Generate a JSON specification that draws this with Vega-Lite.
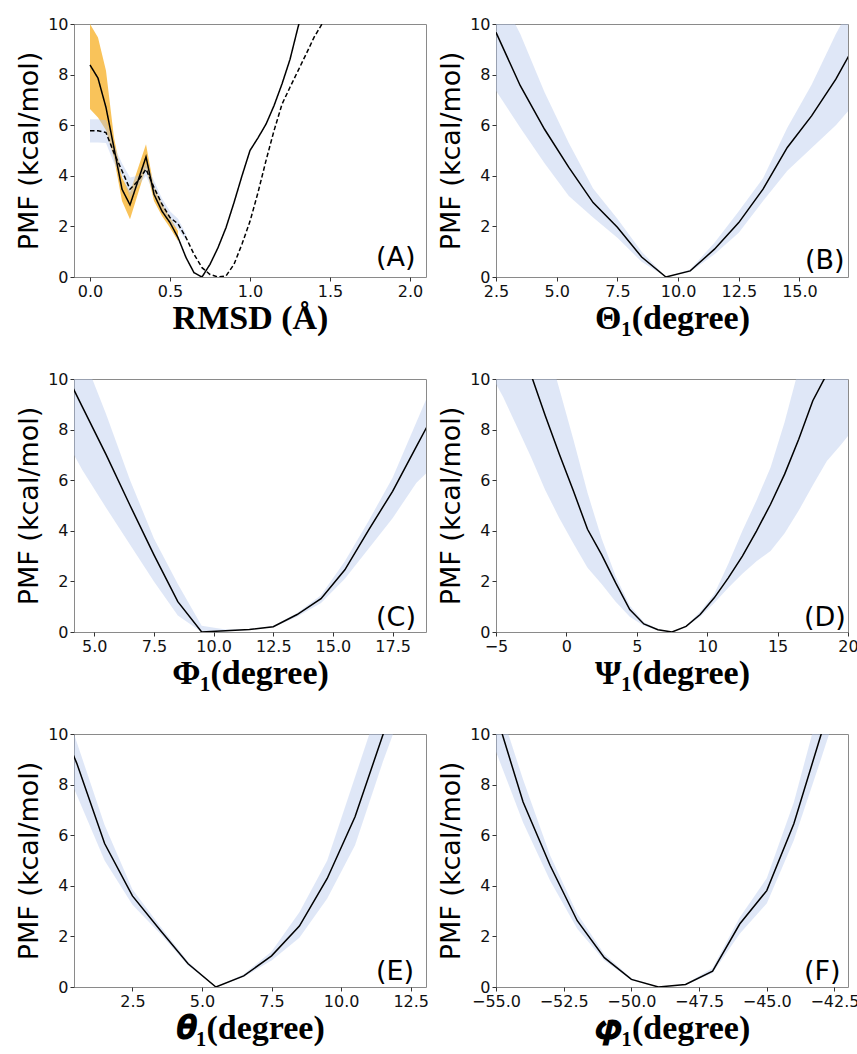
{
  "$schema": "https://vega.github.io/schema/vega-lite/v6.json",
  "padding": {"left": 15, "top": 15, "right": 5, "bottom": 5},
  "background": "white",
  "columns": 2,
  "spacing": {"row": 102, "column": 70},
  "bounds": "flush",
  "datasets": {
    "pmf": [
      {"p":"A","s":"solid","x":0,"y":8.38},{"p":"A","s":"solid","x":0.05,"y":7.86},{"p":"A","s":"solid","x":0.1,"y":6.7},{"p":"A","s":"solid","x":0.15,"y":5.1},{"p":"A","s":"solid","x":0.2,"y":3.47},{"p":"A","s":"solid","x":0.25,"y":2.85},{"p":"A","s":"solid","x":0.3,"y":3.8},{"p":"A","s":"solid","x":0.35,"y":4.75},{"p":"A","s":"solid","x":0.4,"y":3.27},{"p":"A","s":"solid","x":0.45,"y":2.6},{"p":"A","s":"solid","x":0.5,"y":2.15},{"p":"A","s":"solid","x":0.55,"y":1.56},{"p":"A","s":"solid","x":0.6,"y":0.77},{"p":"A","s":"solid","x":0.65,"y":0.17},{"p":"A","s":"solid","x":0.7,"y":0},{"p":"A","s":"solid","x":0.75,"y":0.5},{"p":"A","s":"solid","x":0.8,"y":1.16},{"p":"A","s":"solid","x":0.85,"y":1.95},{"p":"A","s":"solid","x":0.9,"y":2.94},{"p":"A","s":"solid","x":0.95,"y":4.0},{"p":"A","s":"solid","x":1.0,"y":5.0},{"p":"A","s":"solid","x":1.05,"y":5.5},{"p":"A","s":"solid","x":1.1,"y":6.04},{"p":"A","s":"solid","x":1.15,"y":6.77},{"p":"A","s":"solid","x":1.2,"y":7.63},{"p":"A","s":"solid","x":1.25,"y":8.6},{"p":"A","s":"solid","x":1.3,"y":9.87},{"p":"A","s":"solid","x":1.35,"y":11.0},
      {"p":"A","s":"dashed","x":0,"y":5.78},{"p":"A","s":"dashed","x":0.05,"y":5.78},{"p":"A","s":"dashed","x":0.1,"y":5.71},{"p":"A","s":"dashed","x":0.15,"y":4.9},{"p":"A","s":"dashed","x":0.2,"y":4.2},{"p":"A","s":"dashed","x":0.25,"y":3.47},{"p":"A","s":"dashed","x":0.3,"y":3.8},{"p":"A","s":"dashed","x":0.35,"y":4.26},{"p":"A","s":"dashed","x":0.4,"y":3.54},{"p":"A","s":"dashed","x":0.45,"y":2.88},{"p":"A","s":"dashed","x":0.5,"y":2.35},{"p":"A","s":"dashed","x":0.55,"y":2.1},{"p":"A","s":"dashed","x":0.6,"y":1.56},{"p":"A","s":"dashed","x":0.65,"y":0.9},{"p":"A","s":"dashed","x":0.7,"y":0.37},{"p":"A","s":"dashed","x":0.75,"y":0.1},{"p":"A","s":"dashed","x":0.8,"y":0},{"p":"A","s":"dashed","x":0.85,"y":0.04},{"p":"A","s":"dashed","x":0.9,"y":0.5},{"p":"A","s":"dashed","x":0.95,"y":1.3},{"p":"A","s":"dashed","x":1.0,"y":2.2},{"p":"A","s":"dashed","x":1.05,"y":3.34},{"p":"A","s":"dashed","x":1.1,"y":4.6},{"p":"A","s":"dashed","x":1.15,"y":5.78},{"p":"A","s":"dashed","x":1.2,"y":6.83},{"p":"A","s":"dashed","x":1.25,"y":7.5},{"p":"A","s":"dashed","x":1.3,"y":8.15},{"p":"A","s":"dashed","x":1.35,"y":8.8},{"p":"A","s":"dashed","x":1.4,"y":9.47},{"p":"A","s":"dashed","x":1.45,"y":10.0},{"p":"A","s":"dashed","x":1.5,"y":10.6},
      {"p":"B","s":"solid","x":2.5,"y":9.67},{"p":"B","s":"solid","x":3.5,"y":7.56},{"p":"B","s":"solid","x":4.5,"y":5.84},{"p":"B","s":"solid","x":5.5,"y":4.33},{"p":"B","s":"solid","x":6.5,"y":2.94},{"p":"B","s":"solid","x":7.5,"y":1.97},{"p":"B","s":"solid","x":8.5,"y":0.79},{"p":"B","s":"solid","x":9.5,"y":0},{"p":"B","s":"solid","x":10.5,"y":0.24},{"p":"B","s":"solid","x":11.5,"y":1.1},{"p":"B","s":"solid","x":12.5,"y":2.15},{"p":"B","s":"solid","x":13.5,"y":3.47},{"p":"B","s":"solid","x":14.5,"y":5.12},{"p":"B","s":"solid","x":15.5,"y":6.37},{"p":"B","s":"solid","x":16.5,"y":7.82},{"p":"B","s":"solid","x":17.5,"y":9.55},
      {"p":"C","s":"solid","x":3.5,"y":10.8},{"p":"C","s":"solid","x":4.5,"y":8.9},{"p":"C","s":"solid","x":5.5,"y":7.0},{"p":"C","s":"solid","x":6.5,"y":5.0},{"p":"C","s":"solid","x":7.5,"y":3.05},{"p":"C","s":"solid","x":8.5,"y":1.2},{"p":"C","s":"solid","x":9.5,"y":0},{"p":"C","s":"solid","x":10.5,"y":0.05},{"p":"C","s":"solid","x":11.5,"y":0.1},{"p":"C","s":"solid","x":12.5,"y":0.21},{"p":"C","s":"solid","x":13.5,"y":0.69},{"p":"C","s":"solid","x":14.5,"y":1.32},{"p":"C","s":"solid","x":15.5,"y":2.46},{"p":"C","s":"solid","x":16.5,"y":4.04},{"p":"C","s":"solid","x":17.5,"y":5.56},{"p":"C","s":"solid","x":18.5,"y":7.34},{"p":"C","s":"solid","x":19.5,"y":9.1},
      {"p":"D","s":"solid","x":-3.5,"y":11.6},{"p":"D","s":"solid","x":-2.5,"y":10.15},{"p":"D","s":"solid","x":-1.5,"y":8.55},{"p":"D","s":"solid","x":-0.5,"y":7.03},{"p":"D","s":"solid","x":0.5,"y":5.57},{"p":"D","s":"solid","x":1.5,"y":4.06},{"p":"D","s":"solid","x":2.5,"y":3.06},{"p":"D","s":"solid","x":3.5,"y":1.94},{"p":"D","s":"solid","x":4.5,"y":0.89},{"p":"D","s":"solid","x":5.5,"y":0.32},{"p":"D","s":"solid","x":6.5,"y":0.09},{"p":"D","s":"solid","x":7.5,"y":0},{"p":"D","s":"solid","x":8.5,"y":0.22},{"p":"D","s":"solid","x":9.5,"y":0.69},{"p":"D","s":"solid","x":10.5,"y":1.35},{"p":"D","s":"solid","x":11.5,"y":2.14},{"p":"D","s":"solid","x":12.5,"y":3.0},{"p":"D","s":"solid","x":13.5,"y":3.99},{"p":"D","s":"solid","x":14.5,"y":5.05},{"p":"D","s":"solid","x":15.5,"y":6.24},{"p":"D","s":"solid","x":16.5,"y":7.62},{"p":"D","s":"solid","x":17.5,"y":9.14},{"p":"D","s":"solid","x":18.5,"y":10.2},{"p":"D","s":"solid","x":19.5,"y":11.5},{"p":"D","s":"solid","x":20.5,"y":13.0},
      {"p":"E","s":"solid","x":-0.5,"y":11.5},{"p":"E","s":"solid","x":0.5,"y":8.84},{"p":"E","s":"solid","x":1.5,"y":5.67},{"p":"E","s":"solid","x":2.5,"y":3.6},{"p":"E","s":"solid","x":3.5,"y":2.24},{"p":"E","s":"solid","x":4.5,"y":0.92},{"p":"E","s":"solid","x":5.5,"y":0},{"p":"E","s":"solid","x":6.5,"y":0.44},{"p":"E","s":"solid","x":7.5,"y":1.23},{"p":"E","s":"solid","x":8.5,"y":2.41},{"p":"E","s":"solid","x":9.5,"y":4.29},{"p":"E","s":"solid","x":10.5,"y":6.73},{"p":"E","s":"solid","x":11.5,"y":9.96},{"p":"E","s":"solid","x":12.5,"y":13.2},
      {"p":"F","s":"solid","x":-56,"y":13.5},{"p":"F","s":"solid","x":-55,"y":10.8},{"p":"F","s":"solid","x":-54,"y":7.31},{"p":"F","s":"solid","x":-53,"y":4.8},{"p":"F","s":"solid","x":-52,"y":2.62},{"p":"F","s":"solid","x":-51,"y":1.16},{"p":"F","s":"solid","x":-50,"y":0.3},{"p":"F","s":"solid","x":-49,"y":0},{"p":"F","s":"solid","x":-48,"y":0.1},{"p":"F","s":"solid","x":-47,"y":0.63},{"p":"F","s":"solid","x":-46,"y":2.49},{"p":"F","s":"solid","x":-45,"y":3.81},{"p":"F","s":"solid","x":-44,"y":6.45},{"p":"F","s":"solid","x":-43,"y":9.96},{"p":"F","s":"solid","x":-42,"y":13.3}
    ],
    "band": [
      {"p":"A","s":"orange","x":0,"lo":6.64,"hi":10.0},{"p":"A","s":"orange","x":0.05,"lo":6.3,"hi":9.47},{"p":"A","s":"orange","x":0.1,"lo":5.8,"hi":8.15},{"p":"A","s":"orange","x":0.15,"lo":4.7,"hi":5.5},{"p":"A","s":"orange","x":0.2,"lo":3.0,"hi":3.93},{"p":"A","s":"orange","x":0.25,"lo":2.28,"hi":3.34},{"p":"A","s":"orange","x":0.3,"lo":3.3,"hi":4.3},{"p":"A","s":"orange","x":0.35,"lo":4.33,"hi":5.25},{"p":"A","s":"orange","x":0.4,"lo":3.0,"hi":3.54},{"p":"A","s":"orange","x":0.45,"lo":2.41,"hi":2.88},{"p":"A","s":"orange","x":0.5,"lo":1.95,"hi":2.35},{"p":"A","s":"orange","x":0.55,"lo":1.42,"hi":1.82},
      {"p":"A","s":"blue","x":0,"lo":5.32,"hi":6.24},{"p":"A","s":"blue","x":0.05,"lo":5.32,"hi":6.24},{"p":"A","s":"blue","x":0.1,"lo":5.3,"hi":6.2},{"p":"A","s":"blue","x":0.15,"lo":4.5,"hi":5.2},{"p":"A","s":"blue","x":0.2,"lo":4.0,"hi":4.5},{"p":"A","s":"blue","x":0.25,"lo":3.14,"hi":3.93},{"p":"A","s":"blue","x":0.3,"lo":3.6,"hi":4.0},{"p":"A","s":"blue","x":0.35,"lo":4.0,"hi":4.5},{"p":"A","s":"blue","x":0.4,"lo":3.3,"hi":3.8},{"p":"A","s":"blue","x":0.45,"lo":2.7,"hi":3.1},{"p":"A","s":"blue","x":0.5,"lo":2.1,"hi":2.6},{"p":"A","s":"blue","x":0.55,"lo":1.9,"hi":2.3},{"p":"A","s":"blue","x":0.6,"lo":1.45,"hi":1.7},
      {"p":"B","s":"blue","x":2.5,"lo":7.36,"hi":11.5},{"p":"B","s":"blue","x":3.5,"lo":5.9,"hi":9.6},{"p":"B","s":"blue","x":4.5,"lo":4.5,"hi":7.3},{"p":"B","s":"blue","x":5.5,"lo":3.2,"hi":5.3},{"p":"B","s":"blue","x":6.5,"lo":2.35,"hi":3.5},{"p":"B","s":"blue","x":7.5,"lo":1.55,"hi":2.3},{"p":"B","s":"blue","x":8.5,"lo":0.6,"hi":1.0},{"p":"B","s":"blue","x":9.5,"lo":0,"hi":0},{"p":"B","s":"blue","x":10.5,"lo":0.2,"hi":0.3},{"p":"B","s":"blue","x":11.5,"lo":0.9,"hi":1.35},{"p":"B","s":"blue","x":12.5,"lo":1.75,"hi":2.6},{"p":"B","s":"blue","x":13.5,"lo":3.0,"hi":3.9},{"p":"B","s":"blue","x":14.5,"lo":4.2,"hi":5.9},{"p":"B","s":"blue","x":15.5,"lo":5.1,"hi":7.6},{"p":"B","s":"blue","x":16.5,"lo":6.0,"hi":9.6},{"p":"B","s":"blue","x":17.5,"lo":7.1,"hi":11.4},
      {"p":"C","s":"blue","x":4.15,"lo":7.0,"hi":11.5},{"p":"C","s":"blue","x":4.5,"lo":6.4,"hi":11.0},{"p":"C","s":"blue","x":5.5,"lo":4.9,"hi":8.6},{"p":"C","s":"blue","x":6.5,"lo":3.45,"hi":6.0},{"p":"C","s":"blue","x":7.5,"lo":2.0,"hi":3.7},{"p":"C","s":"blue","x":8.5,"lo":0.65,"hi":1.9},{"p":"C","s":"blue","x":9.5,"lo":0,"hi":0.25},{"p":"C","s":"blue","x":10.5,"lo":0.03,"hi":0.1},{"p":"C","s":"blue","x":11.5,"lo":0.08,"hi":0.12},{"p":"C","s":"blue","x":12.5,"lo":0.19,"hi":0.24},{"p":"C","s":"blue","x":13.5,"lo":0.6,"hi":0.75},{"p":"C","s":"blue","x":14.5,"lo":1.15,"hi":1.45},{"p":"C","s":"blue","x":15.5,"lo":2.1,"hi":2.8},{"p":"C","s":"blue","x":16.5,"lo":3.3,"hi":4.4},{"p":"C","s":"blue","x":17.5,"lo":4.5,"hi":6.1},{"p":"C","s":"blue","x":18.5,"lo":5.9,"hi":8.3},{"p":"C","s":"blue","x":19.5,"lo":6.8,"hi":10.5},
      {"p":"D","s":"blue","x":-5,"lo":9.8,"hi":18},{"p":"D","s":"blue","x":-4.5,"lo":9.3,"hi":17},{"p":"D","s":"blue","x":-3.5,"lo":8.1,"hi":15.5},{"p":"D","s":"blue","x":-2.5,"lo":6.9,"hi":13.6},{"p":"D","s":"blue","x":-1.5,"lo":5.6,"hi":11.6},{"p":"D","s":"blue","x":-0.5,"lo":4.5,"hi":9.6},{"p":"D","s":"blue","x":0.5,"lo":3.5,"hi":7.6},{"p":"D","s":"blue","x":1.5,"lo":2.54,"hi":5.5},{"p":"D","s":"blue","x":2.5,"lo":1.9,"hi":3.7},{"p":"D","s":"blue","x":3.5,"lo":1.2,"hi":2.2},{"p":"D","s":"blue","x":4.5,"lo":0.6,"hi":1.05},{"p":"D","s":"blue","x":5.5,"lo":0.25,"hi":0.4},{"p":"D","s":"blue","x":6.5,"lo":0.07,"hi":0.12},{"p":"D","s":"blue","x":7.5,"lo":0,"hi":0},{"p":"D","s":"blue","x":8.5,"lo":0.2,"hi":0.25},{"p":"D","s":"blue","x":9.5,"lo":0.6,"hi":0.8},{"p":"D","s":"blue","x":10.5,"lo":1.15,"hi":1.5},{"p":"D","s":"blue","x":11.5,"lo":1.75,"hi":2.7},{"p":"D","s":"blue","x":12.5,"lo":2.3,"hi":4.0},{"p":"D","s":"blue","x":13.5,"lo":2.8,"hi":5.2},{"p":"D","s":"blue","x":14.5,"lo":3.2,"hi":6.5},{"p":"D","s":"blue","x":15.5,"lo":3.9,"hi":8.3},{"p":"D","s":"blue","x":16.5,"lo":4.8,"hi":10.4},{"p":"D","s":"blue","x":17.5,"lo":5.8,"hi":12.4},{"p":"D","s":"blue","x":18.5,"lo":6.76,"hi":14},{"p":"D","s":"blue","x":19.5,"lo":7.4,"hi":16},{"p":"D","s":"blue","x":20,"lo":7.75,"hi":17},
      {"p":"E","s":"blue","x":0.4,"lo":7.85,"hi":10.0},{"p":"E","s":"blue","x":1.5,"lo":5.0,"hi":6.4},{"p":"E","s":"blue","x":2.5,"lo":3.25,"hi":3.85},{"p":"E","s":"blue","x":3.5,"lo":2.1,"hi":2.4},{"p":"E","s":"blue","x":4.5,"lo":0.85,"hi":1.0},{"p":"E","s":"blue","x":5.5,"lo":0,"hi":0},{"p":"E","s":"blue","x":6.5,"lo":0.4,"hi":0.5},{"p":"E","s":"blue","x":7.5,"lo":1.05,"hi":1.4},{"p":"E","s":"blue","x":8.5,"lo":1.95,"hi":2.95},{"p":"E","s":"blue","x":9.5,"lo":3.5,"hi":5.0},{"p":"E","s":"blue","x":10.5,"lo":5.6,"hi":8.3},{"p":"E","s":"blue","x":11.5,"lo":8.9,"hi":11.6},{"p":"E","s":"blue","x":12.5,"lo":11.9,"hi":14.5},
      {"p":"F","s":"blue","x":-55,"lo":9.3,"hi":11.5},{"p":"F","s":"blue","x":-54,"lo":6.5,"hi":8.2},{"p":"F","s":"blue","x":-53,"lo":4.2,"hi":5.2},{"p":"F","s":"blue","x":-52,"lo":2.3,"hi":2.9},{"p":"F","s":"blue","x":-51,"lo":1.05,"hi":1.3},{"p":"F","s":"blue","x":-50,"lo":0.28,"hi":0.35},{"p":"F","s":"blue","x":-49,"lo":0,"hi":0},{"p":"F","s":"blue","x":-48,"lo":0.08,"hi":0.12},{"p":"F","s":"blue","x":-47,"lo":0.55,"hi":0.75},{"p":"F","s":"blue","x":-46,"lo":2.1,"hi":2.75},{"p":"F","s":"blue","x":-45,"lo":3.3,"hi":4.3},{"p":"F","s":"blue","x":-44,"lo":5.8,"hi":7.3},{"p":"F","s":"blue","x":-43,"lo":9.0,"hi":11.3},{"p":"F","s":"blue","x":-42,"lo":12.3,"hi":15}
    ],
    "labels": [
      {"p":"A","label":"(A)"},{"p":"B","label":"(B)"},{"p":"C","label":"(C)"},{"p":"D","label":"(D)"},{"p":"E","label":"(E)"},{"p":"F","label":"(F)"}
    ]
  },
  "concat": [
    {
      "width": 352, "height": 253,
      "layer": [
        {"data": {"name": "band"}, "transform": [{"filter": "datum.p === 'A' && datum.s === 'orange'"}],
         "mark": {"type": "area", "clip": true, "color": "#F9C35A", "opacity": 1},
         "encoding": {"x": {"field": "x", "type": "quantitative", "scale": {"domain": [-0.1, 2.1], "nice": false, "zero": false}, "axis": {"title": "RMSD (Å)", "values": [0, 0.5, 1, 1.5, 2], "format": ".1f"}},
                      "y": {"field": "lo", "type": "quantitative", "scale": {"domain": [0, 10], "nice": false}, "axis": {"title": "PMF (kcal/mol)", "values": [0, 2, 4, 6, 8, 10]}}, "y2": {"field": "hi"}}},
        {"data": {"name": "band"}, "transform": [{"filter": "datum.p === 'A' && datum.s === 'blue'"}],
         "mark": {"type": "area", "clip": true, "color": "#AFC3EC", "opacity": 0.4},
         "encoding": {"x": {"field": "x", "type": "quantitative"}, "y": {"field": "lo", "type": "quantitative", "axis": {"title": "PMF (kcal/mol)", "values": [0, 2, 4, 6, 8, 10]}}, "y2": {"field": "hi"}}},
        {"data": {"name": "pmf"}, "transform": [{"filter": "datum.p === 'A'"}],
         "mark": {"type": "line", "clip": true, "color": "#000", "strokeWidth": 1.5},
         "encoding": {"x": {"field": "x", "type": "quantitative"}, "y": {"field": "y", "type": "quantitative", "axis": {"title": "PMF (kcal/mol)", "values": [0, 2, 4, 6, 8, 10]}},
                      "strokeDash": {"field": "s", "type": "nominal", "scale": {"domain": ["solid", "dashed"], "range": [[1, 0], [4.5, 2.5]]}, "legend": null}}},
        {"data": {"name": "labels"}, "transform": [{"filter": "datum.p === 'A'"}],
         "mark": {"type": "text", "align": "left", "baseline": "alphabetic", "dx": -50, "dy": -11, "font": "DejaVu Sans", "fontSize": 27, "color": "#000"},
         "encoding": {"x": {"datum": 2.1}, "y": {"datum": 0}, "text": {"field": "label"}}}
      ]
    },
    {
      "width": 352, "height": 253,
      "layer": [
        {"data": {"name": "band"}, "transform": [{"filter": "datum.p === 'B'"}],
         "mark": {"type": "area", "clip": true, "color": "#AFC3EC", "opacity": 0.4},
         "encoding": {"x": {"field": "x", "type": "quantitative", "scale": {"domain": [2.5, 17.0], "nice": false, "zero": false}, "axis": {"title": "Θ₁(degree)", "values": [2.5, 5, 7.5, 10, 12.5, 15], "format": ".1f"}},
                      "y": {"field": "lo", "type": "quantitative", "scale": {"domain": [0, 10], "nice": false}, "axis": {"title": "PMF (kcal/mol)", "values": [0, 2, 4, 6, 8, 10]}}, "y2": {"field": "hi"}}},
        {"data": {"name": "pmf"}, "transform": [{"filter": "datum.p === 'B'"}],
         "mark": {"type": "line", "clip": true, "color": "#000", "strokeWidth": 1.5},
         "encoding": {"x": {"field": "x", "type": "quantitative"}, "y": {"field": "y", "type": "quantitative", "axis": {"title": "PMF (kcal/mol)", "values": [0, 2, 4, 6, 8, 10]}}}},
        {"data": {"name": "labels"}, "transform": [{"filter": "datum.p === 'B'"}],
         "mark": {"type": "text", "align": "left", "baseline": "alphabetic", "dx": -43, "dy": -8, "font": "DejaVu Sans", "fontSize": 27, "color": "#000"},
         "encoding": {"x": {"datum": 17.0}, "y": {"datum": 0}, "text": {"field": "label"}}}
      ]
    },
    {
      "width": 352, "height": 253,
      "layer": [
        {"data": {"name": "band"}, "transform": [{"filter": "datum.p === 'C'"}],
         "mark": {"type": "area", "clip": true, "color": "#AFC3EC", "opacity": 0.4},
         "encoding": {"x": {"field": "x", "type": "quantitative", "scale": {"domain": [4.15, 18.9], "nice": false, "zero": false}, "axis": {"title": "Φ₁(degree)", "values": [5, 7.5, 10, 12.5, 15, 17.5], "format": ".1f"}},
                      "y": {"field": "lo", "type": "quantitative", "scale": {"domain": [0, 10], "nice": false}, "axis": {"title": "PMF (kcal/mol)", "values": [0, 2, 4, 6, 8, 10]}}, "y2": {"field": "hi"}}},
        {"data": {"name": "pmf"}, "transform": [{"filter": "datum.p === 'C'"}],
         "mark": {"type": "line", "clip": true, "color": "#000", "strokeWidth": 1.5},
         "encoding": {"x": {"field": "x", "type": "quantitative"}, "y": {"field": "y", "type": "quantitative", "axis": {"title": "PMF (kcal/mol)", "values": [0, 2, 4, 6, 8, 10]}}}},
        {"data": {"name": "labels"}, "transform": [{"filter": "datum.p === 'C'"}],
         "mark": {"type": "text", "align": "left", "baseline": "alphabetic", "dx": -50, "dy": -6, "font": "DejaVu Sans", "fontSize": 27, "color": "#000"},
         "encoding": {"x": {"datum": 18.9}, "y": {"datum": 0}, "text": {"field": "label"}}}
      ]
    },
    {
      "width": 352, "height": 253,
      "layer": [
        {"data": {"name": "band"}, "transform": [{"filter": "datum.p === 'D'"}],
         "mark": {"type": "area", "clip": true, "color": "#AFC3EC", "opacity": 0.4},
         "encoding": {"x": {"field": "x", "type": "quantitative", "scale": {"domain": [-5, 20], "nice": false, "zero": false}, "axis": {"title": "Ψ₁(degree)", "values": [-5, 0, 5, 10, 15, 20], "format": "d"}},
                      "y": {"field": "lo", "type": "quantitative", "scale": {"domain": [0, 10], "nice": false}, "axis": {"title": "PMF (kcal/mol)", "values": [0, 2, 4, 6, 8, 10]}}, "y2": {"field": "hi"}}},
        {"data": {"name": "pmf"}, "transform": [{"filter": "datum.p === 'D'"}],
         "mark": {"type": "line", "clip": true, "color": "#000", "strokeWidth": 1.5},
         "encoding": {"x": {"field": "x", "type": "quantitative"}, "y": {"field": "y", "type": "quantitative", "axis": {"title": "PMF (kcal/mol)", "values": [0, 2, 4, 6, 8, 10]}}}},
        {"data": {"name": "labels"}, "transform": [{"filter": "datum.p === 'D'"}],
         "mark": {"type": "text", "align": "left", "baseline": "alphabetic", "dx": -44, "dy": -6, "font": "DejaVu Sans", "fontSize": 27, "color": "#000"},
         "encoding": {"x": {"datum": 20}, "y": {"datum": 0}, "text": {"field": "label"}}}
      ]
    },
    {
      "width": 352, "height": 253,
      "layer": [
        {"data": {"name": "band"}, "transform": [{"filter": "datum.p === 'E'"}],
         "mark": {"type": "area", "clip": true, "color": "#AFC3EC", "opacity": 0.4},
         "encoding": {"x": {"field": "x", "type": "quantitative", "scale": {"domain": [0.4, 13.05], "nice": false, "zero": false}, "axis": {"title": "\ud835\udf3d₁(degree)", "values": [2.5, 5, 7.5, 10, 12.5], "format": ".1f"}},
                      "y": {"field": "lo", "type": "quantitative", "scale": {"domain": [0, 10], "nice": false}, "axis": {"title": "PMF (kcal/mol)", "values": [0, 2, 4, 6, 8, 10]}}, "y2": {"field": "hi"}}},
        {"data": {"name": "pmf"}, "transform": [{"filter": "datum.p === 'E'"}],
         "mark": {"type": "line", "clip": true, "color": "#000", "strokeWidth": 1.5},
         "encoding": {"x": {"field": "x", "type": "quantitative"}, "y": {"field": "y", "type": "quantitative", "axis": {"title": "PMF (kcal/mol)", "values": [0, 2, 4, 6, 8, 10]}}}},
        {"data": {"name": "labels"}, "transform": [{"filter": "datum.p === 'E'"}],
         "mark": {"type": "text", "align": "left", "baseline": "alphabetic", "dx": -50, "dy": -7, "font": "DejaVu Sans", "fontSize": 27, "color": "#000"},
         "encoding": {"x": {"datum": 13.05}, "y": {"datum": 0}, "text": {"field": "label"}}}
      ]
    },
    {
      "width": 352, "height": 253,
      "layer": [
        {"data": {"name": "band"}, "transform": [{"filter": "datum.p === 'F'"}],
         "mark": {"type": "area", "clip": true, "color": "#AFC3EC", "opacity": 0.4},
         "encoding": {"x": {"field": "x", "type": "quantitative", "scale": {"domain": [-55, -42.0], "nice": false, "zero": false}, "axis": {"title": "\ud835\udf4b₁(degree)", "values": [-55, -52.5, -50, -47.5, -45, -42.5], "format": ".1f"}},
                      "y": {"field": "lo", "type": "quantitative", "scale": {"domain": [0, 10], "nice": false}, "axis": {"title": "PMF (kcal/mol)", "values": [0, 2, 4, 6, 8, 10]}}, "y2": {"field": "hi"}}},
        {"data": {"name": "pmf"}, "transform": [{"filter": "datum.p === 'F'"}],
         "mark": {"type": "line", "clip": true, "color": "#000", "strokeWidth": 1.5},
         "encoding": {"x": {"field": "x", "type": "quantitative"}, "y": {"field": "y", "type": "quantitative", "axis": {"title": "PMF (kcal/mol)", "values": [0, 2, 4, 6, 8, 10]}}}},
        {"data": {"name": "labels"}, "transform": [{"filter": "datum.p === 'F'"}],
         "mark": {"type": "text", "align": "left", "baseline": "alphabetic", "dx": -44, "dy": -7, "font": "DejaVu Sans", "fontSize": 27, "color": "#000"},
         "encoding": {"x": {"datum": -42.0}, "y": {"datum": 0}, "text": {"field": "label"}}}
      ]
    }
  ],
  "config": {
    "view": {"stroke": "#8a8a8a", "strokeWidth": 1},
    "axis": {"grid": false, "domain": false, "ticks": true, "tickColor": "#333", "tickSize": 4, "labelFont": "DejaVu Sans", "labelFontSize": 16, "labelColor": "#111", "labelFlush": false, "labelOverlap": false, "labelPadding": 2, "titleColor": "#000"},
    "axisX": {"titleFont": "Liberation Serif", "titleFontSize": 34, "titleFontWeight": "bold", "titlePadding": 2},
    "axisY": {"titleFont": "DejaVu Sans", "titleFontSize": 27, "titleFontWeight": "normal", "titlePadding": 4}
  }
}
